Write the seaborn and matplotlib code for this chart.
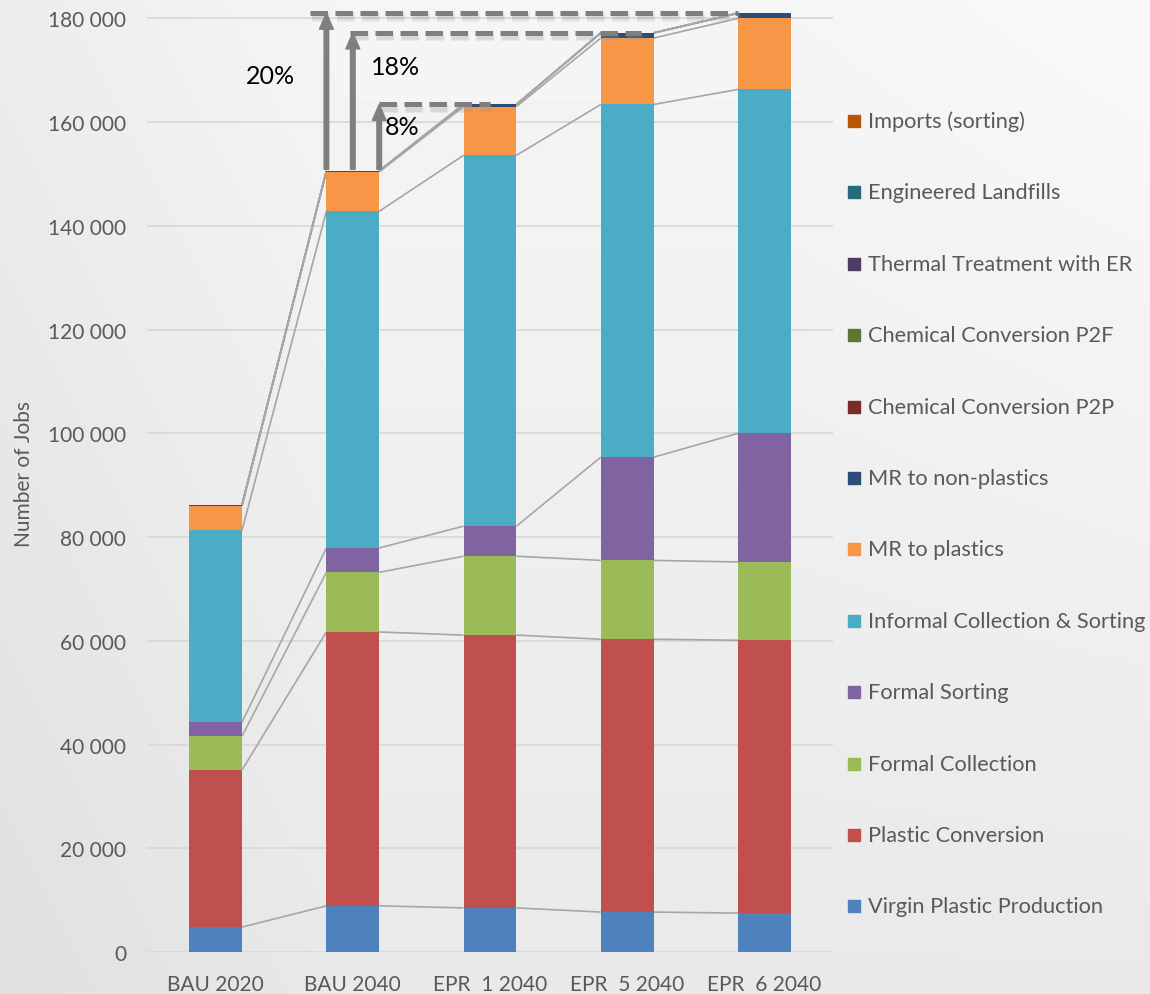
import numpy as np
import matplotlib
matplotlib.use("Agg")
import matplotlib.pyplot as plt
import seaborn as sns
from matplotlib.patches import Rectangle
from matplotlib import patheffects as pe

# ---- data (jobs) ----
scenarios = ["BAU 2020", "BAU 2040", "EPR  1 2040", "EPR  5 2040", "EPR  6 2040"]

virgin_plastic_production = [4800, 8900, 8500, 7700, 7500]
plastic_conversion = [30300, 52800, 52600, 52600, 52600]
formal_collection = [6500, 11500, 15200, 15200, 15100]
formal_sorting = [2700, 4700, 5800, 19900, 24800]
informal_collection_sorting = [37000, 64900, 71500, 68000, 66300]
mr_to_plastics = [4700, 7600, 9400, 12800, 13700]
mr_to_non_plastics = [200, 200, 400, 1000, 1000]
chemical_conversion_p2p = [0, 0, 0, 0, 0]
chemical_conversion_p2f = [0, 0, 0, 0, 0]
thermal_treatment_er = [0, 0, 0, 0, 0]
engineered_landfills = [0, 0, 0, 0, 0]
imports_sorting = [0, 0, 0, 0, 0]

series_names = [
    "Virgin Plastic Production", "Plastic Conversion", "Formal Collection",
    "Formal Sorting", "Informal Collection & Sorting", "MR to plastics",
    "MR to non-plastics", "Chemical Conversion P2P", "Chemical Conversion P2F",
    "Thermal Treatment with ER", "Engineered Landfills", "Imports (sorting)",
]
series_values = [
    virgin_plastic_production, plastic_conversion, formal_collection,
    formal_sorting, informal_collection_sorting, mr_to_plastics,
    mr_to_non_plastics, chemical_conversion_p2p, chemical_conversion_p2f,
    thermal_treatment_er, engineered_landfills, imports_sorting,
]
series_colors = [
    "#4f81bd", "#c0504d", "#9bbb59", "#8064a2", "#4bacc6", "#f79646",
    "#2c4d75", "#772c2a", "#5f7530", "#4d3b62", "#276a7c", "#b65708",
]

y_ticks = [0, 20000, 40000, 60000, 80000, 100000, 120000, 140000, 160000, 180000]

# ---- style ----
sns.set_theme(style="white")
plt.rcParams["font.family"] = ["Lato", "DejaVu Sans"]
text_grey = "#595959"

fig = plt.figure(figsize=(11.5, 9.95), dpi=100)

# soft grey backdrop
bg = fig.add_axes([0, 0, 1, 1], zorder=-5)
yy, xx = np.mgrid[0:1:200j, 0:1:230j]
shade = 0.962 - 0.05 * yy - 0.035 * np.clip(1 - xx / 0.3, 0, 1) + 0.015 * np.clip((xx - 0.7) / 0.3, 0, 1) * (1 - yy)
bg.imshow(np.clip(shade, 0, 1), cmap="gray", vmin=0, vmax=1, aspect="auto", interpolation="bicubic")
bg.axis("off")

ax = fig.add_axes([147 / 1150, 42 / 995, (833 - 147) / 1150, (953 - 9) / 995])
ax.set_facecolor("none")

bar_width = 0.385
cum = np.cumsum(np.array(series_values, dtype=float), axis=0)
totals = cum[-1]

# stacked bars: draw cumulative heights from the top series down
for k in range(len(series_names) - 1, -1, -1):
    sns.barplot(x=scenarios, y=cum[k], order=scenarios, color=series_colors[k],
                saturation=1, width=bar_width, errorbar=None, linewidth=0,
                edgecolor="none", ax=ax, zorder=3)

# series lines between neighbouring bars
xs = np.arange(len(scenarios))
for k in range(len(series_names)):
    for i in range(len(scenarios) - 1):
        ax.plot([xs[i] + bar_width / 2, xs[i + 1] - bar_width / 2],
                [cum[k][i], cum[k][i + 1]], color="#a6a6a6", lw=1.2,
                zorder=2.5, solid_capstyle="butt")

ax.set_ylim(0, 182000)
ax.set_xlim(-0.5, len(scenarios) - 0.5)
ax.set_yticks(y_ticks)
ax.set_yticklabels([f"{v:,}".replace(",", " ") for v in y_ticks])
for v in y_ticks:
    ax.axhline(v, color="#d9d9d9", lw=1.3, zorder=1)
for s in ax.spines.values():
    s.set_visible(False)
ax.tick_params(axis="both", length=0, labelsize=15, colors=text_grey)
ax.tick_params(axis="y", pad=15)
ax.tick_params(axis="x", pad=16)
ax.set_xlabel("")
ax.set_ylabel("")
fig.text(24 / 1150, 1 - 474 / 995, "Number of Jobs", rotation=90, ha="center",
         va="center", fontsize=15, color=text_grey)

# growth arrows relative to BAU 2040
base = totals[1]
arrow_grey = "#7f7f7f"
targets = [4, 3, 2]
arrow_x = [1 - bar_width / 2, 1, 1 + bar_width / 2]
dash_x = [(0.69, 3.81), (0.98, 3.10), (1.19, 2.00)]
label_xy = [(0.40, -12000), (1.31, -6500), (1.36, -4300)]
shadow = [
    pe.SimpleLineShadow(offset=(1.0, -2.5), shadow_color="#9a9a9a", alpha=0.18, linewidth=7),
    pe.SimpleLineShadow(offset=(1.5, -3.0), shadow_color="#9a9a9a", alpha=0.15, linewidth=4),
    pe.Normal(),
]
for t, x0, (d0, d1), (lx, dy) in zip(targets, arrow_x, dash_x, label_xy):
    top = totals[t]
    ax.plot([d0, d1], [top, top], color=arrow_grey, lw=3.6, dashes=(3.5, 1.5),
            solid_capstyle="butt", zorder=6, clip_on=False, path_effects=shadow)
    ax.annotate("", xy=(x0, top), xytext=(x0, base + 300),
                arrowprops=dict(arrowstyle="simple,head_length=1.15,head_width=1.0,tail_width=0.33",
                                color=arrow_grey, mutation_scale=10, shrinkA=0, shrinkB=0),
                zorder=6, annotation_clip=False)
    pct = round((top / base - 1) * 100)
    ax.text(lx, top + dy, f"{pct}%", fontsize=18, color="black", ha="center",
            va="center", zorder=7)

# legend, listed top-down from the last series
leg_top, leg_step = 122, 71.4
for j, k in enumerate(range(len(series_names) - 1, -1, -1)):
    yc = leg_top + j * leg_step
    fig.patches.append(Rectangle((848 / 1150, 1 - (yc + 6) / 995), 12 / 1150, 12 / 995,
                                 transform=fig.transFigure, color=series_colors[k], zorder=5))
    fig.text(868 / 1150, 1 - yc / 995, series_names[k], fontsize=15.7, color=text_grey,
             ha="left", va="center")

fig.savefig("out.png", dpi=100)
